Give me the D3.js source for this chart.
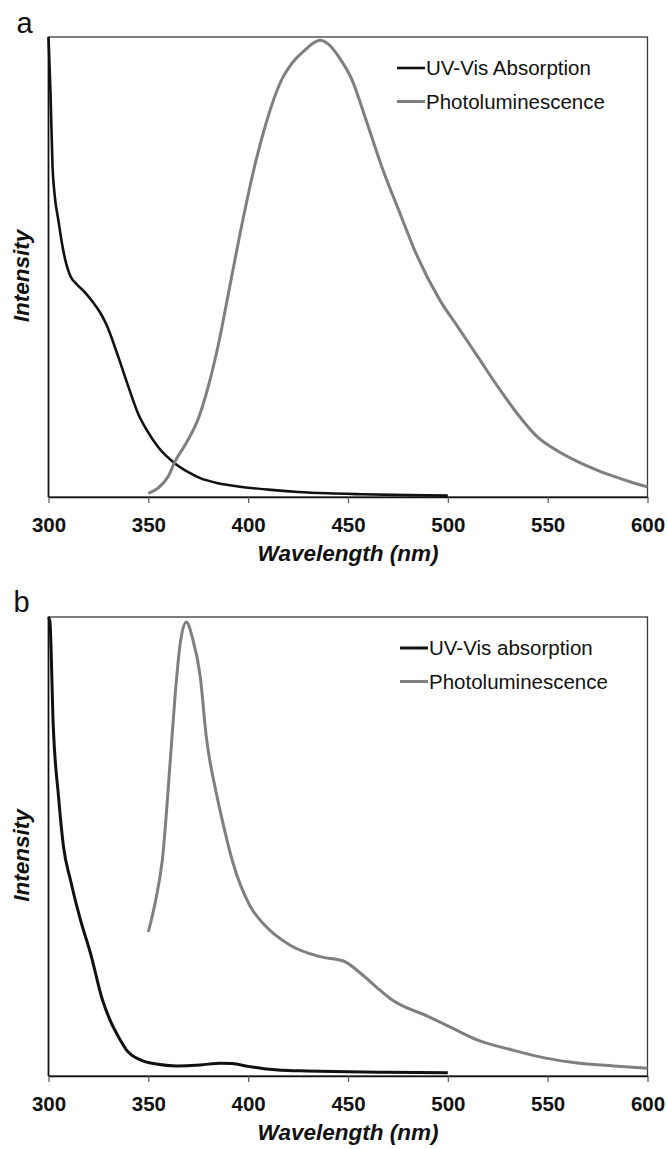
<!DOCTYPE html>
<html>
<head>
<meta charset="utf-8">
<script src="https://cdn.jsdelivr.net/npm/d3@7"></script>
<style>
  body { margin: 0; background: #fff; }
  svg { display: block; font-family: "Liberation Sans", Arial, sans-serif; }
</style>
</head>
<body>
<svg id="drawing_region"></svg>
<script>
// panel a
const wlAbsA = [300, 301, 302, 303, 305, 307, 309, 311, 314, 318, 322, 326, 329, 335, 340, 345, 350, 355, 363, 370, 376, 385, 395, 410, 425, 440, 457, 480, 500];
const absA = [1.0, 0.88, 0.72, 0.66, 0.6, 0.545, 0.505, 0.48, 0.463, 0.446, 0.425, 0.4, 0.375, 0.304, 0.24, 0.18, 0.14, 0.108, 0.074, 0.054, 0.041, 0.03, 0.023, 0.016, 0.011, 0.008, 0.006, 0.004, 0.003];
const wlPlA = [350, 355, 360, 363, 370, 375, 380, 385, 390, 396, 404, 409, 416, 422, 428, 432, 436, 440, 446, 452, 459, 467, 476, 484, 496, 505, 515, 525, 535, 545, 555, 565, 575, 585, 592, 600];
const plA = [0.008, 0.02, 0.045, 0.074, 0.125, 0.17, 0.24, 0.33, 0.44, 0.574, 0.733, 0.813, 0.9, 0.943, 0.97, 0.985, 0.993, 0.985, 0.953, 0.907, 0.82, 0.717, 0.617, 0.53, 0.428, 0.37, 0.305, 0.24, 0.18, 0.13, 0.1, 0.077, 0.058, 0.042, 0.032, 0.022];

// panel b
const wlAbsB = [300, 300.7, 302.4, 305, 307.5, 311, 316, 321, 327, 331, 336, 339, 346, 354, 364, 376, 386, 392, 400, 408, 420, 429, 450, 470, 500];
const absB = [1.0, 0.99, 0.76, 0.61, 0.5, 0.427, 0.34, 0.268, 0.166, 0.12, 0.078, 0.057, 0.035, 0.026, 0.022, 0.024, 0.028, 0.027, 0.021, 0.016, 0.012, 0.011, 0.009, 0.008, 0.007];
const wlPlB = [350, 354, 357, 361, 363.5, 366, 369, 372, 376, 379, 384, 387, 392, 401, 408, 421, 436, 448, 456, 466, 472, 490, 501, 515, 532, 549, 566, 583, 600];
const plB = [0.314, 0.39, 0.47, 0.688, 0.834, 0.943, 0.989, 0.956, 0.87, 0.74, 0.617, 0.558, 0.47, 0.37, 0.33, 0.285, 0.26, 0.25, 0.225, 0.187, 0.166, 0.13, 0.107, 0.078, 0.057, 0.039, 0.028, 0.022, 0.017];

const xTicks = [300, 350, 400, 450, 500, 550, 600];
const legendA = ['UV-Vis Absorption', 'Photoluminescence'];
const legendB = ['UV-Vis absorption', 'Photoluminescence'];

const svg = d3.select('#drawing_region')
    .attr('width', 667)
    .attr('height', 1149);

class SpectrumChart {
    constructor(config) {
        this.config = config;
        this.init();
    }

    init() {
        const {left, top, width, height} = this.config;
        this.chart = svg.append('g')
            .attr('transform', `translate(${left}, ${top})`);
        this.width = width;
        this.height = height;

        this.xscale = d3.scaleLinear().domain([300, 600]).range([0, width]);
        this.yscale = d3.scaleLinear().domain([0, 1]).range([height, 0]);
    }

    render(series, labels) {
        const {width, height} = this;

        // 枠
        this.chart.append('rect')
            .attr('width', width)
            .attr('height', height)
            .attr('fill', 'none')
            .attr('stroke', '#3a3a3a')
            .attr('stroke-width', 1.3);

        this.chart.append('line')
            .attr('y2', height)
            .attr('stroke', '#111')
            .attr('stroke-width', 1.6);

        const xaxis = d3.axisBottom(this.xscale)
            .tickValues(xTicks)
            .tickSize(6)
            .tickSizeOuter(0)
            .tickPadding(14);

        const xg = this.chart.append('g')
            .attr('transform', `translate(0, ${height})`)
            .call(xaxis);
        xg.select('.domain').attr('stroke', '#111').attr('stroke-width', 1.6);
        xg.selectAll('.tick line').attr('stroke', '#555').attr('stroke-width', 1.2);
        xg.selectAll('.tick text')
            .attr('font-size', 20.5)
            .attr('font-weight', 'bold')
            .attr('font-family', '"Liberation Sans", Arial, sans-serif')
            .attr('fill', '#111');

        // 軸ラベル
        this.chart.append('text')
            .attr('x', width / 2)
            .attr('y', height + 64)
            .attr('text-anchor', 'middle')
            .attr('font-size', 22.5)
            .attr('font-weight', 'bold')
            .attr('font-style', 'italic')
            .attr('fill', '#111')
            .text('Wavelength (nm)');

        this.chart.append('text')
            .attr('transform', `translate(${-20}, ${height / 2 + 9}) rotate(-90)`)
            .attr('text-anchor', 'middle')
            .attr('font-size', 22.5)
            .attr('font-weight', 'bold')
            .attr('font-style', 'italic')
            .attr('fill', '#111')
            .text('Intensity');

        this.chart.append('text')
            .attr('x', this.config.letterX)
            .attr('y', this.config.letterY)
            .attr('font-size', 29)
            .attr('fill', '#111')
            .text(this.config.letter);

        // 線
        const line = d3.line()
            .x(d => this.xscale(d[0]))
            .y(d => this.yscale(d[1]))
            .curve(d3.curveMonotoneX);

        series.forEach(s => {
            this.chart.append('path')
                .datum(d3.zip(s.x, s.y))
                .attr('fill', 'none')
                .attr('stroke', s.color)
                .attr('stroke-width', s.width)
                .attr('stroke-linejoin', 'round')
                .attr('d', line);
        });

        // 凡例
        const {legendX, legendY} = this.config;
        const lg = this.chart.append('g')
            .attr('transform', `translate(${legendX}, ${legendY})`);
        labels.forEach((label, i) => {
            lg.append('line')
                .attr('x1', 0)
                .attr('x2', 28)
                .attr('y1', i * 33.5)
                .attr('y2', i * 33.5)
                .attr('stroke', series[i].color)
                .attr('stroke-width', series[i].width);
            lg.append('text')
                .attr('x', 29)
                .attr('y', i * 33.5 + 7)
                .attr('font-size', 20.5)
                .attr('fill', '#111')
                .text(label);
        });
    }
}

const chartA = new SpectrumChart({
    left: 48.5, top: 37, width: 599, height: 460,
    letter: 'a', letterX: -32, letterY: -4,
    legendX: 348.5, legendY: 31
});
chartA.render([
    {x: wlAbsA, y: absA, color: '#111', width: 2.6},
    {x: wlPlA, y: plA, color: '#7f7f7f', width: 3}
], legendA);

const chartB = new SpectrumChart({
    left: 48.5, top: 617, width: 599, height: 459,
    letter: 'b', letterX: -35, letterY: -5,
    legendX: 351.5, legendY: 31
});
chartB.render([
    {x: wlAbsB, y: absB, color: '#111', width: 3},
    {x: wlPlB, y: plB, color: '#7f7f7f', width: 3}
], legendB);
</script>
</body>
</html>
